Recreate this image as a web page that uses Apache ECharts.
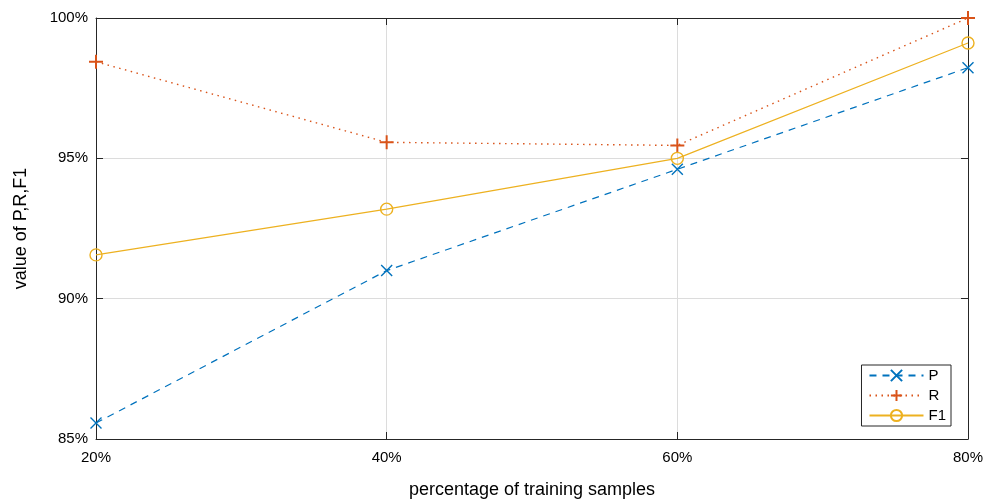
<!DOCTYPE html>
<html>
<head>
<meta charset="utf-8">
<script src="https://cdn.jsdelivr.net/npm/echarts@6/dist/echarts.min.js"></script>
<style>
  html, body { margin: 0; padding: 0; background: #fff; }
  #chart { width: 994px; height: 504px; }
</style>
</head>
<body>
<div id="chart"></div>
<script>
// training sample percentages (x)
const samples = [20, 40, 60, 80];
// metric values in percent
const pValues = [85.57, 91.0, 94.61, 98.23];
const rValues = [98.44, 95.57, 95.46, 100.0];
const f1Values = [91.56, 93.19, 95.0, 99.11];

const seriesNames = ["P", "R", "F1"];

const font = "Liberation Sans, Arial, Helvetica, sans-serif";
const crossPath = "path://M0,0L10,10M10,0L0,10";
const plusPath = "path://M5,0L5,10M0,5L10,5";

const toPairs = (vals) => samples.map((x, i) => [x, vals[i]]);

const chart = echarts.init(document.getElementById("chart"));

const axisBox = { lineStyle: { color: "#262626", width: 1 } };
const tickIn = { show: true, inside: true, length: 7, lineStyle: { color: "#262626" } };

const option = {
  animation: false,
  grid: { left: 96, right: 26, top: 18, bottom: 62, containLabel: false },
  legend: {
    orient: "vertical",
    right: 43,
    bottom: 78,
    backgroundColor: "#fff",
    borderColor: "#262626",
    borderWidth: 1,
    padding: [3, 5, 3, 7],
    itemGap: 5,
    itemWidth: 54,
    itemHeight: 14,
    textStyle: { fontFamily: font, fontSize: 15, color: "#000" },
    data: seriesNames,
  },
  xAxis: [
    {
      type: "value",
      min: 20,
      max: 80,
      interval: 20,
      name: "percentage of training samples",
      nameLocation: "middle",
      nameGap: 42,
      nameTextStyle: { fontFamily: font, fontSize: 18, color: "#000" },
      axisLine: axisBox,
      axisTick: tickIn,
      axisLabel: { formatter: "{value}%", fontFamily: font, fontSize: 15, color: "#000", margin: 11 },
      splitLine: { show: true, lineStyle: { color: "#dcdcdc", width: 1 } },
    },
    {
      type: "value",
      position: "top",
      min: 20,
      max: 80,
      interval: 20,
      axisLine: axisBox,
      axisTick: tickIn,
      axisLabel: { show: false },
      splitLine: { show: false },
    },
  ],
  yAxis: [
    {
      type: "value",
      min: 85,
      max: 100,
      interval: 5,
      name: "value of P,R,F1",
      nameLocation: "middle",
      nameGap: 66,
      nameTextStyle: { fontFamily: font, fontSize: 18, color: "#000" },
      axisLine: { show: true, ...axisBox },
      axisTick: tickIn,
      axisLabel: { formatter: "{value}%", fontFamily: font, fontSize: 15, color: "#000", margin: 8 },
      splitLine: { show: true, lineStyle: { color: "#dcdcdc", width: 1 } },
    },
    {
      type: "value",
      position: "right",
      min: 85,
      max: 100,
      interval: 5,
      axisLine: { show: true, ...axisBox },
      axisTick: tickIn,
      axisLabel: { show: false },
      splitLine: { show: false },
    },
  ],
  series: [
    {
      name: "P",
      type: "line",
      data: toPairs(pValues),
      symbol: crossPath,
      symbolSize: 11,
      lineStyle: { color: "#0072BD", width: 1.2, type: [7, 6] },
      itemStyle: { color: "#0072BD", borderColor: "#0072BD", borderWidth: 1.4 },
      z: 3,
    },
    {
      name: "R",
      type: "line",
      data: toPairs(rValues),
      symbol: plusPath,
      symbolSize: 14,
      lineStyle: { color: "#D95319", width: 1.4, type: [1.5, 4.5] },
      itemStyle: { color: "#D95319", borderColor: "#D95319", borderWidth: 2 },
      z: 3,
    },
    {
      name: "F1",
      type: "line",
      data: toPairs(f1Values),
      symbol: "circle",
      symbolSize: 12,
      lineStyle: { color: "#EDB120", width: 1.2 },
      itemStyle: { color: "rgba(0,0,0,0)", borderColor: "#EDB120", borderWidth: 1.4 },
      z: 3,
    },
  ],
};

chart.setOption(option);
</script>
</body>
</html>
